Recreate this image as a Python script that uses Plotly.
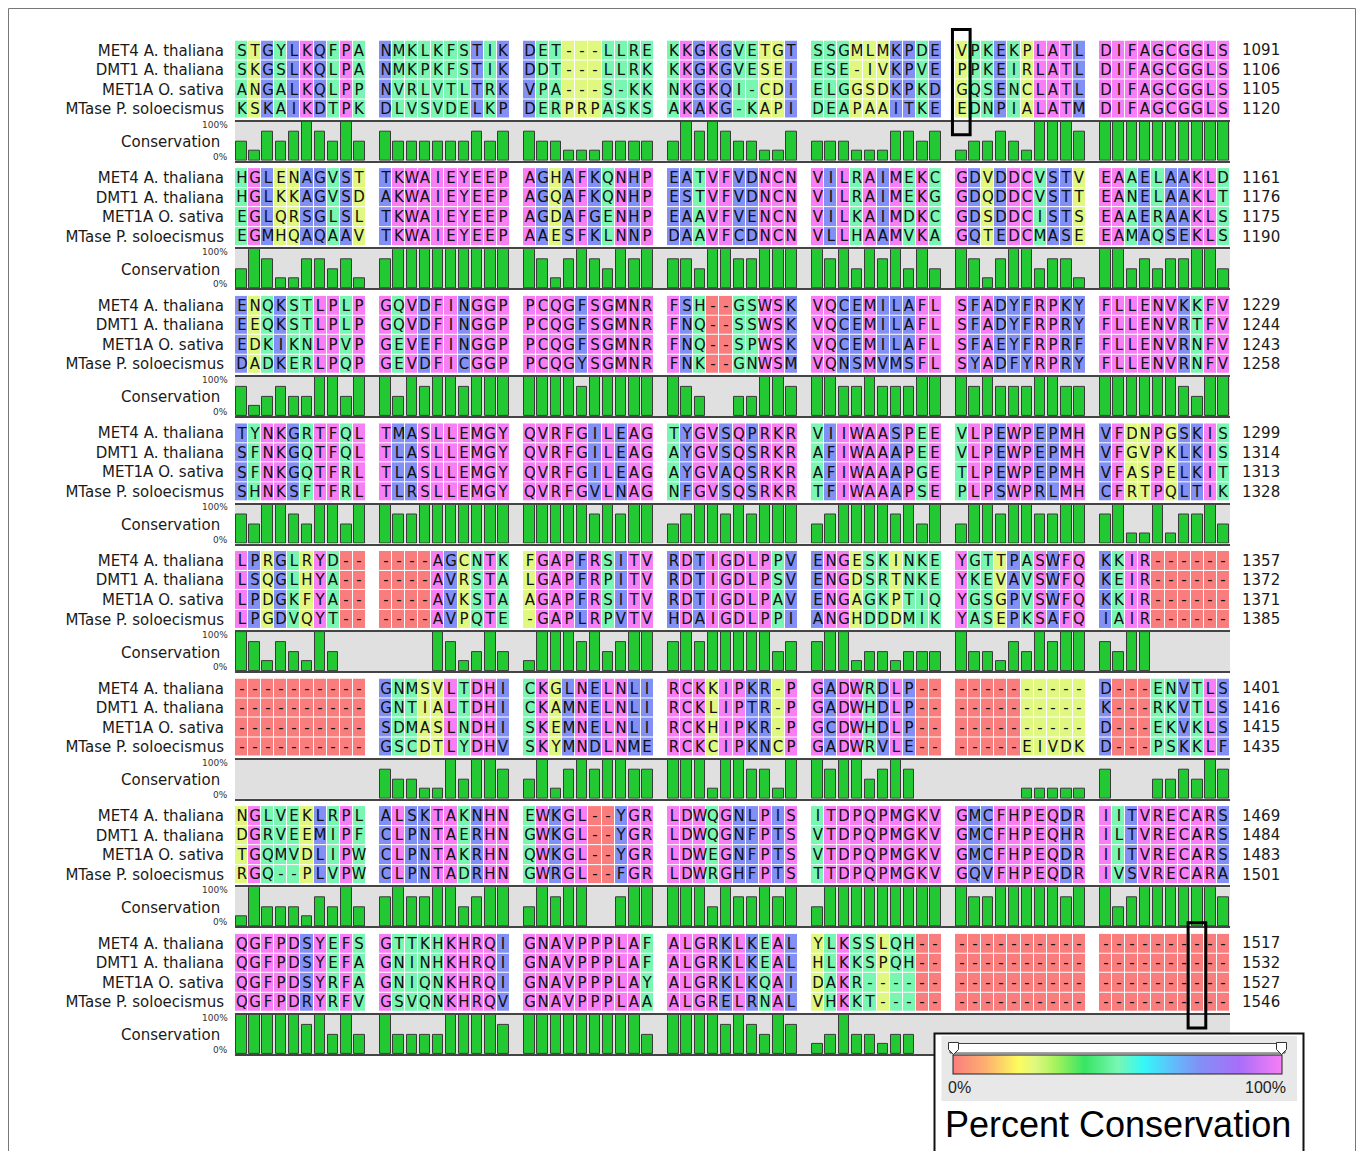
import plotly.graph_objects as go
from collections import Counter

W, H = 1357, 1151

# ---------------------------------------------------------------- data
seq_names = ["MET4 A. thaliana", "DMT1 A. thaliana", "MET1A O. sativa", "MTase P. soloecismus"]

met4_a_thaliana = [
    "STGYLKQFPA NMKLKFSTIK DET---LLRE KKGKGVETGT SSGMLMKPDE VPKEKPLATL DIFAGCGGLS",
    "HGLENAGVST TKWAIEYEEP AGHAFKQNHP EATVFVDNCN VILRAIMEKC GDVDDCVSTV EAAELAAKLD",
    "ENQKSTLPLP GQVDFINGGP PCQGFSGMNR FSH--GSWSK VQCEMILAFL SFADYFRPKY FLLENVKKFV",
    "TYNKGRTFQL TMASLLEMGY QVRFGILEAG TYGVSQPRKR VIIWAASPEE VLPEWPEPMH VFDNPGSKIS",
    "LPRGLRYD-- ----AGCNTK FGAPFRSITV RDTIGDLPPV ENGESKINKE YGTTPASWFQ KKIR------",
    "---------- GNMSVLTDHI CKGLNELNLI RCKKIPKR-P GADWRDLP-- ---------- D---ENVTLS",
    "NGLVEKLRPL ALSKTAKNHN EWKGL--YGR LDWQGNLPIS ITDPQPMGKV GMCFHPEQDR IITVRECARS",
    "QGFPDSYEFS GTTKHKHRQI GNAVPPPLAF ALGRKLKEAL YLKSSLQH-- ---------- ----------",
]
dmt1_a_thaliana = [
    "SKGSLKQLPA NMKPKFSTIK DDT---LLRK KKGKGVESEI ESE-IVKPVE PPKEIRLATL DIFAGCGGLS",
    "HGLKKAGVSD AKWAIEYEEP AGQAFKQNHP ESTVFVDNCN VILRAIMEKG GDQDDCVSTT EANELAAKLT",
    "EEQKSTLPLP GQVDFINGGP PCQGFSGMNR FNQ--SSWSK VQCEMILAFL SFADYFRPRY FLLENVRTFV",
    "SFNKGQTFQL TLASLLEMGY QVRFGILEAG AYGVSQSRKR AFIWAAAPEE VLPEWPEPMH VFGVPKLKIS",
    "LSQGLHYA-- ----AVRSTA LGAPFRPITV RDTIGDLPSV ENGDSRTNKE YKEVAVSWFQ KEIR------",
    "---------- GNTIALTDHI CKAMNELNLI RCKLIPTR-P GADWHDLP-- ---------- K---RKVTLS",
    "DGRVEEMIPF CLPNTAERHN GWKGL--YGR LDWQGNFPTS VTDPQPMGKV GMCFHPEQHR ILTVRECARS",
    "QGFPDSYEFA GNINHKHRQI GNAVPPPLAF ALGRKLKEAL HLKKSPQH-- ---------- ----------",
]
met1a_o_sativa = [
    "ANGALKQLPP NVRLVTLTRK VPA---S-KK NKGKQI-CDI ELGGSDKPKD GQSENCLATL DIFAGCGGLS",
    "EGLQRSGLSL TKWAIEYEEP AGDAFGENHP EAAVFVENCN VILKAIMDKC GDSDDCISTS EAAERAAKLS",
    "EDKIKNLPVP GEVEFINGGP PCQGFSGMNR FNQ--SPWSK VQCEMILAFL SFAEYFRPRF FLLENVRNFV",
    "SFNKGQTFRL TLASLLEMGY QVRFGILEAG AYGVAQSRKR AFIWAAAPGE TLPEWPEPMH VFASPELKIT",
    "LPDGKFYA-- ----AVKSTA AGAPFRSITV RDTIGDLPAV ENGAGKPTIQ YGSGPVSWFQ KKIR------",
    "---------- SDMASLNDHI SKEMNELNLI RCKHIPKR-P GCDWHDLP-- ---------- D---EKVKLS",
    "TGQMVDLIPW CLPNTAKRHN QWKGL--YGR LDWEGNFPTS VTDPQPMGKV GMCFHPEQDR IITVRECARS",
    "QGFPDSYRFA GNIQNKHRQI GNAVPPPLAY ALGRKLKQAI DAKR------ ---------- ----------",
]
mtase_p_soloecismus = [
    "KSKAIKDTPK DLVSVDELKP DERPRPASKS AKAKG-KAPI DEAPAAITKE EDNPIALATM DIFAGCGGLS",
    "EGMHQAQAAV TKWAIEYEEP AAESFKLNNP DAAVFCDNCN VLLHAAMVKA GQTEDCMASE EAMAQSEKLS",
    "DADKERLPQP GEVDFICGGP PCQGYSGMNR FNK--GNWSM VQNSMVMSFL SYADFYRPRY FLLENVRNFV",
    "SHNKSFTFRL TLRSLLEMGY QVRFGVLNAG NFGVSQSRKR TFIWAAAPSE PLPSWPRLMH CFRTPQLTIK",
    "LPGDVQYT-- ----AVPQTE -GAPLRPVTV HDAIGDLPPI ANGHDDDMIK YASEPKSAFQ IAIR------",
    "---------- GSCDTLYDHV SKYMNDLNME RCKCIPKNCP GADWRVLE-- -----EIVDK D---PSKKLF",
    "RGQ--PLVPW CLPNTADRHN GWRGL--FGR LDWRGHFPTS TTDPQPMGKV GQVFHPEQDR IVSVRECARA",
    "QGFPDRYRFV GSVQNKHRQV GNAVPPPLAA ALGRELRNAL VHKKT----- ---------- ----------",
]

met4_end = [1091, 1161, 1229, 1299, 1357, 1401, 1469, 1517]
dmt1_end = [1106, 1176, 1244, 1314, 1372, 1416, 1484, 1532]
met1a_end = [1105, 1175, 1243, 1313, 1371, 1415, 1483, 1527]
mtase_end = [1120, 1190, 1258, 1328, 1385, 1435, 1501, 1546]

# (block, alignment column) of the boxed positions
highlighted = [(0, 50), (7, 67)]

alignment = [met4_a_thaliana, dmt1_a_thaliana, met1a_o_sativa, mtase_p_soloecismus]
block_ends = [met4_end, dmt1_end, met1a_end, mtase_end]

# ---------------------------------------------------------------- geometry (pixels)
X_LEFT, X_RIGHT = 235, 1230
TOP0 = 40.5            # top of the first residue row
PITCH = 127.6          # vertical distance between blocks
ROWS_H = 78.2          # height of the four residue rows
BAND_A, BAND_B = 81.2, 120.2   # conservation band, offsets from block top
GROUP = 10
NCOL = 76              # 70 residues + 6 spacer columns


def px(x):
    return x / W


def py(y):
    return 1 - y / H


def col_pos(j):
    return j + j // GROUP


# rainbow scale for percent conservation (red 0% -> magenta 100%)
cons_scale = [
    [0.00, "#fa7d7d"], [0.10, "#fdb070"], [0.20, "#fcfc5e"], [0.25, "#e0f880"],
    [0.31, "#a8f25c"], [0.40, "#38e464"], [0.50, "#78f6b2"], [0.58, "#34f8f8"],
    [0.67, "#62bcfc"], [0.75, "#8290f6"], [0.87, "#a86ef9"], [1.00, "#f87ef6"],
]

FONT = "DejaVu Sans"
fig = go.Figure()
shapes, annotations = [], []
layout = {}

for b in range(8):
    rows = [seq[b].replace(" ", "") for seq in alignment]
    ncols = len(rows[0])

    # percent identity of each alignment column
    cons = []
    for j in range(ncols):
        residues = [r[j] for r in rows if r[j] != "-"]
        if residues:
            cons.append(100.0 * Counter(residues).most_common(1)[0][1] / len(rows))
        else:
            cons.append(0.0)

    z = [[None] * NCOL for _ in rows]
    txt = [[""] * NCOL for _ in rows]
    for i, r in enumerate(rows):
        for j, ch in enumerate(r):
            z[i][col_pos(j)] = cons[j]
            txt[i][col_pos(j)] = ch

    hi = 2 * b + 1
    ci = 2 * b + 2
    hx, hy = ("x", "y") if hi == 1 else (f"x{hi}", f"y{hi}")
    cx, cy = f"x{ci}", f"y{ci}"
    top = TOP0 + b * PITCH

    fig.add_trace(go.Heatmap(
        z=z, text=txt, x=list(range(NCOL)), y=list(range(len(rows))),
        texttemplate="%{text}", textfont=dict(family=FONT, size=15, color="#111"),
        coloraxis="coloraxis", xgap=1, ygap=1, hoverinfo="skip",
        xaxis=hx, yaxis=hy,
    ))
    fig.add_trace(go.Bar(
        x=[col_pos(j) for j in range(ncols)],
        y=[c if c > 0 else None for c in cons],
        width=0.8, marker=dict(color="#22c933", line=dict(color="#3a3a3a", width=1)),
        hoverinfo="skip", xaxis=cx, yaxis=cy, showlegend=False,
    ))

    xa = dict(range=[-0.5, NCOL - 0.5], domain=[px(X_LEFT), px(X_RIGHT)],
              showgrid=False, zeroline=False, showticklabels=False, ticks="",
              fixedrange=True)
    layout["xaxis" if hi == 1 else f"xaxis{hi}"] = dict(xa, anchor=hy)
    layout["yaxis" if hi == 1 else f"yaxis{hi}"] = dict(
        anchor=hx, domain=[py(top + ROWS_H), py(top)], range=[len(rows) - 0.5, -0.5],
        tickvals=list(range(len(rows))), ticktext=seq_names, ticks="",
        tickfont=dict(family=FONT, size=15, color="#1a1a1a"), ticklabelstandoff=10,
        showgrid=False, zeroline=False, fixedrange=True)
    layout[f"xaxis{ci}"] = dict(xa, anchor=cy, showline=True, mirror=True,
                                linecolor="#444", linewidth=2)
    layout[f"yaxis{ci}"] = dict(
        anchor=cx, domain=[py(top + BAND_B), py(top + BAND_A)], range=[0, 100],
        showgrid=False, zeroline=False, showticklabels=False, ticks="", fixedrange=True)

    # grey band behind the conservation bars
    shapes.append(dict(type="rect", xref=f"{cx} domain", yref=f"{cy} domain",
                       x0=0, x1=1, y0=0, y1=1, fillcolor="#e0e0e0",
                       line=dict(width=0), layer="below"))

    annotations.append(dict(text="Conservation", xref=f"{cx} domain", yref=f"{cy} domain",
                            x=0, y=0.5, xanchor="right", yanchor="middle", xshift=-13,
                            yshift=-1, showarrow=False,
                            font=dict(family=FONT, size=15, color="#1a1a1a")))
    annotations.append(dict(text="100%", xref=f"{cx} domain", yref=f"{cy} domain",
                            x=0, y=1, xanchor="right", yanchor="middle", xshift=-5,
                            yshift=-3, showarrow=False,
                            font=dict(family=FONT, size=9, color="#333")))
    annotations.append(dict(text="0%", xref=f"{cx} domain", yref=f"{cy} domain",
                            x=0, y=0, xanchor="right", yanchor="middle", xshift=-5,
                            yshift=4, showarrow=False,
                            font=dict(family=FONT, size=9, color="#333")))

    for i, ends in enumerate(block_ends):
        annotations.append(dict(text=str(ends[b]), xref=f"{hx} domain", yref=hy,
                                x=1, y=i, xanchor="left", yanchor="middle", xshift=10,
                                showarrow=False,
                                font=dict(family=FONT, size=15, color="#1a1a1a")))

# black boxes marking selected alignment columns
for b, j in highlighted:
    hi = 2 * b + 1
    hx = "x" if hi == 1 else f"x{hi}"
    top = TOP0 + b * PITCH
    p = col_pos(j)
    shapes.append(dict(type="rect", xref=hx, yref="paper",
                       x0=p - 0.5 - 0.2, x1=p + 0.5 + 0.15,
                       y0=py(top + BAND_A + 13), y1=py(top - 11),
                       line=dict(color="black", width=3), layer="above"))

# outer frame
shapes.append(dict(type="rect", xref="paper", yref="paper",
                   x0=px(8.5), x1=px(1355.5), y0=py(1170), y1=py(8.5),
                   line=dict(color="#777", width=1), layer="below"))

# legend panel
shapes.append(dict(type="rect", xref="paper", yref="paper",
                   x0=px(934.5), x1=px(1303.5), y0=py(1170), y1=py(1033.5),
                   fillcolor="white", line=dict(color="#111", width=2), layer="above"))
shapes.append(dict(type="rect", xref="paper", yref="paper",
                   x0=px(941.5), x1=px(1297), y0=py(1101), y1=py(1036),
                   fillcolor="#e8e8e8", line=dict(width=0), layer="above"))
shapes.append(dict(type="rect", xref="paper", yref="paper",
                   x0=px(950), x1=px(1285), y0=py(1053), y1=py(1043.5),
                   fillcolor="white", line=dict(color="#444", width=1), layer="above"))
for cxp in (953.5, 1281.5):
    pts = [(cxp - 5, 1042.5), (cxp + 5, 1042.5), (cxp + 5, 1049.5), (cxp, 1054.5), (cxp - 5, 1049.5)]
    path = "M " + " L ".join(f"{px(a):.5f},{py(c):.5f}" for a, c in pts) + " Z"
    shapes.append(dict(type="path", xref="paper", yref="paper", path=path,
                       fillcolor="white", line=dict(color="#333", width=1), layer="above"))

annotations += [
    dict(text="0%", xref="paper", yref="paper", x=px(959.5), y=py(1087),
         xanchor="center", yanchor="middle", showarrow=False,
         font=dict(family="Liberation Sans", size=16, color="#222")),
    dict(text="100%", xref="paper", yref="paper", x=px(1265.5), y=py(1087),
         xanchor="center", yanchor="middle", showarrow=False,
         font=dict(family="Liberation Sans", size=16, color="#222")),
    dict(text="Percent Conservation", xref="paper", yref="paper", x=px(1118), y=py(1124),
         xanchor="center", yanchor="middle", showarrow=False,
         font=dict(family="Liberation Sans", size=36, color="black")),
]

fig.update_layout(
    width=W, height=H, margin=dict(l=0, r=0, t=0, b=0),
    paper_bgcolor="white", plot_bgcolor="rgba(0,0,0,0)", showlegend=False,
    coloraxis=dict(
        colorscale=cons_scale, cmin=0, cmax=100,
        colorbar=dict(orientation="h", x=px(953), xanchor="left", y=py(1055), yanchor="top",
                      len=329, lenmode="pixels", thickness=19, thicknessmode="pixels",
                      outlinewidth=1, outlinecolor="#222", showticklabels=False, ticks="",
                      xpad=0, ypad=0, bgcolor="rgba(0,0,0,0)"),
    ),
    shapes=shapes, annotations=annotations, bargap=0,
    **layout,
)

fig.write_html("out.html", config={"displayModeBar": False})
